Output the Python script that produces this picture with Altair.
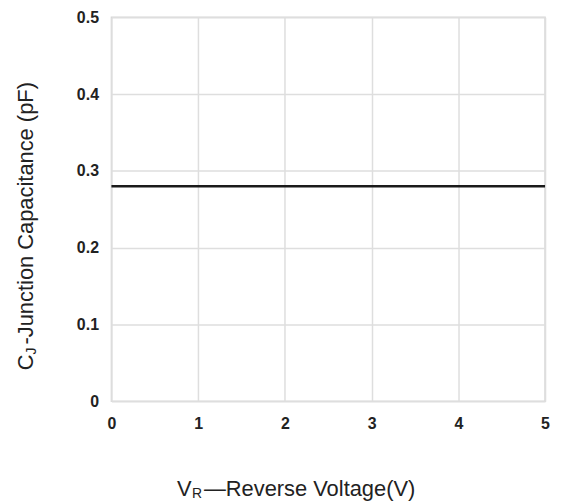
import altair as alt
import pandas as pd

# Data
voltage = [0, 5]
capacitance = [0.28, 0.28]
x_ticks = [0, 1, 2, 3, 4, 5]
y_ticks = [0, 0.1, 0.2, 0.3, 0.4, 0.5]

df = pd.DataFrame({"V": voltage, "C": capacitance})

FONT = "Liberation Sans"
W, H = 436, 386

line = alt.Chart(df).mark_line(color="#1a1a1a", strokeWidth=2.5).encode(
    x=alt.X("V:Q", scale=alt.Scale(domain=[0, 5], nice=False),
            axis=alt.Axis(values=x_ticks, title=None, format="d")),
    y=alt.Y("C:Q", scale=alt.Scale(domain=[0, 0.5], nice=False),
            axis=alt.Axis(values=y_ticks, title=None,
                          labelExpr="datum.value == 0 ? '0' : format(datum.value, '.1f')")),
)

def txt(s, x, y, size, angle=0):
    return alt.Chart(pd.DataFrame({"t": [s]})).mark_text(
        font=FONT, fontSize=size, color="#222222", align="left",
        baseline="alphabetic", angle=angle
    ).encode(x=alt.value(x), y=alt.value(y), text="t:N")

# X title: V_R—Reverse Voltage(V)  (plot top is at page y=16)
xt = [
    txt("V", 66, 481, 22),
    txt("R", 81, 483, 14),
    txt("\u2014Reverse Voltage(V)", 93, 481, 22),
]
# Y title: C_J-Junction Capacitance (pF)
yt = [
    txt("C", -79, 355, 22, 270),
    txt("J", -76, 339, 14, 270),
    txt("-Junction Capacitance (pF)", -79, 329, 22, 270),
]

chart = alt.layer(line, *xt, *yt).properties(
    width=W, height=H,
    padding={"left": 104, "top": 8, "right": 8, "bottom": 100},
    autosize=alt.AutoSizeParams(type="none"),
).configure_view(
    stroke="#d6d6d6", strokeWidth=1.5
).configure_axis(
    domain=False, ticks=False, grid=True, gridColor="#dedede", gridWidth=1.5,
    labelFont=FONT, labelFontSize=16, labelFontWeight="bold", labelColor="#222222",
    labelFlush=False,
).configure_axisX(labelPadding=14).configure_axisY(labelPadding=13)

chart.save("out.html", embed_options={"renderer": "svg", "actions": False})
